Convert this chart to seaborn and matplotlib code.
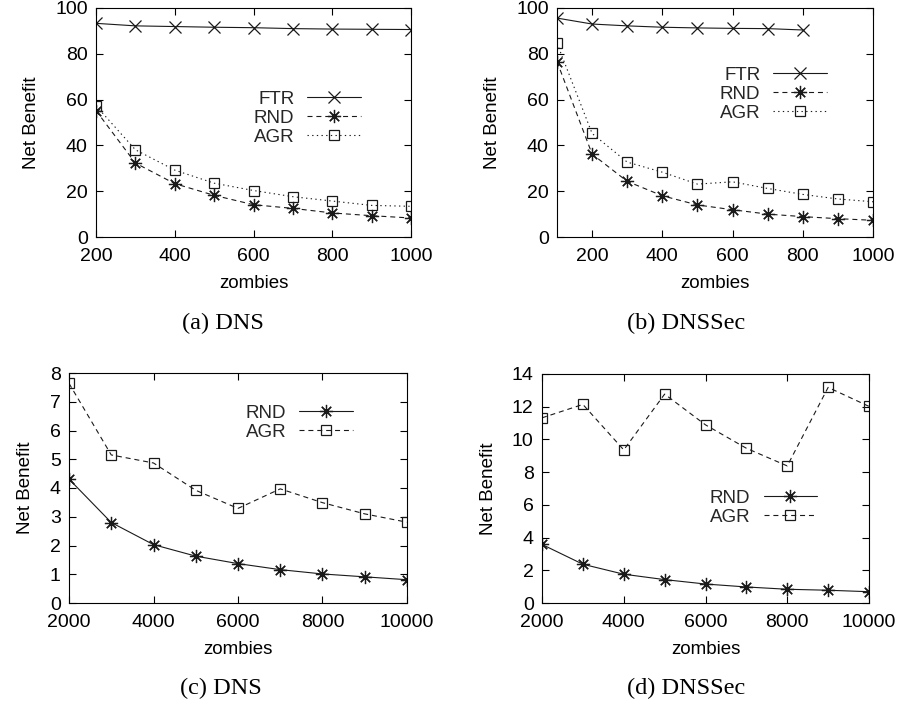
import matplotlib
matplotlib.use("Agg")
import matplotlib.pyplot as plt
import seaborn as sns
import pandas as pd

# ---------------- data ----------------
x_small = [200, 300, 400, 500, 600, 700, 800, 900, 1000]
a_ftr = [93.3, 92.2, 91.9, 91.6, 91.4, 91.0, 90.8, 90.7, 90.6]
a_rnd = [55.2, 32.3, 23.3, 18.2, 14.1, 12.5, 10.5, 9.3, 8.3]
a_agr = [57.3, 38.1, 29.2, 23.5, 20.3, 17.6, 15.7, 13.8, 13.4]

x_b = [100, 200, 300, 400, 500, 600, 700, 800, 900, 1000]
x_b_ftr = [100, 200, 300, 400, 500, 600, 700, 800]
b_ftr = [95.6, 93.0, 92.2, 91.6, 91.3, 91.1, 91.0, 90.4]
b_rnd = [76.6, 36.2, 24.3, 18.0, 14.0, 11.9, 10.0, 8.9, 8.0, 7.3]
b_agr = [84.6, 45.2, 32.7, 28.3, 23.1, 24.1, 21.2, 18.6, 16.6, 15.4]

x_large = [2000, 3000, 4000, 5000, 6000, 7000, 8000, 9000, 10000]
c_rnd = [4.31, 2.80, 2.03, 1.63, 1.37, 1.16, 1.01, 0.91, 0.81]
c_agr = [7.64, 5.15, 4.87, 3.92, 3.29, 3.97, 3.49, 3.10, 2.81]
d_rnd = [3.58, 2.37, 1.76, 1.43, 1.16, 0.98, 0.84, 0.78, 0.69]
d_agr = [11.32, 12.14, 9.36, 12.77, 10.89, 9.46, 8.38, 13.18, 12.02]

captions = ["(a) DNS", "(b) DNSSec", "(c) DNS", "(d) DNSSec"]
xlabel = "zombies"
ylabel = "Net Benefit"

# ---------------- style ----------------
sns.set_theme(style="ticks")
plt.rcParams["font.family"] = ["Liberation Sans", "DejaVu Sans"]
plt.rcParams["axes.linewidth"] = 0.8
plt.rcParams["axes.edgecolor"] = "black"

W, H = 898, 711
fig = plt.figure(figsize=(W / 100, H / 100), dpi=100)

def add_ax(left, right, top, bottom):
    return fig.add_axes([left / W, (H - bottom) / H, (right - left) / W, (bottom - top) / H])

LC = "#1a1a1a"
LW = 0.8
MS_X = 8.5
MS_AST = 9.5
MS_SQ = 7.8
ST_SOLID = "-"
ST_DASH = (0, (4.5, 3.5))
ST_DOT = (0, (1.2, 3.0))
AST = (8, 2, 0)

def series(ax, xs, ys, label, marker, ls, ms, mfc=LC):
    df = pd.DataFrame({"x": xs, "y": ys})
    sns.lineplot(data=df, x="x", y="y", ax=ax, color=LC, lw=LW, linestyle=ls,
                 marker=marker, markersize=ms, markerfacecolor=mfc,
                 markeredgecolor=LC, markeredgewidth=0.9, label=label)

def style_ax(ax, xlim, xticks, ylim, yticks):
    ax.set_xlim(*xlim)
    ax.set_ylim(*ylim)
    ax.set_xticks(xticks)
    ax.set_yticks(yticks)
    ax.tick_params(direction="in", length=5, width=0.8, top=True, right=True,
                   labelsize=14, colors="black")
    ax.tick_params(axis="x", pad=8)
    ax.tick_params(axis="y", pad=6)
    ax.set_xlabel(xlabel, fontsize=13.5, labelpad=7, color="black")
    ax.set_ylabel(ylabel, fontsize=13.5, labelpad=11, color="black")
    for s in ax.spines.values():
        s.set_visible(True)
        s.set_color("black")

def legend(ax, xfrac, yfrac):
    ax.legend(loc="upper right", bbox_to_anchor=(xfrac, yfrac), frameon=False,
              markerfirst=False, fontsize=13.5, handlelength=2.85, handletextpad=0.7,
              labelspacing=0.1, borderpad=0, borderaxespad=0, numpoints=1)

# (a)
ax = add_ax(96, 411, 8, 237)
series(ax, x_small, a_ftr, "FTR", "x", ST_SOLID, MS_X)
series(ax, x_small, a_rnd, "RND", AST, ST_DASH, MS_AST)
series(ax, x_small, a_agr, "AGR", "s", ST_DOT, MS_SQ, mfc="none")
style_ax(ax, (200, 1000), [200, 400, 600, 800, 1000], (0, 100), range(0, 101, 20))
legend(ax, 0.841, 0.64)

# (b)
ax = add_ax(557, 873, 8, 237)
series(ax, x_b_ftr, b_ftr, "FTR", "x", ST_SOLID, MS_X)
series(ax, x_b, b_rnd, "RND", AST, ST_DASH, MS_AST)
series(ax, x_b, b_agr, "AGR", "s", ST_DOT, MS_SQ, mfc="none")
style_ax(ax, (100, 1000), [200, 400, 600, 800, 1000], (0, 100), range(0, 101, 20))
legend(ax, 0.854, 0.743)

# (c)
ax = add_ax(69, 407, 373, 603)
series(ax, x_large, c_rnd, "RND", AST, ST_SOLID, MS_AST)
series(ax, x_large, c_agr, "AGR", "s", ST_DASH, MS_SQ, mfc="none")
style_ax(ax, (2000, 10000), range(2000, 10001, 2000), (0, 8), range(0, 9))
legend(ax, 0.840, 0.862)

# (d)
ax = add_ax(542, 869, 374, 603)
series(ax, x_large, d_rnd, "RND", AST, ST_SOLID, MS_AST)
series(ax, x_large, d_agr, "AGR", "s", ST_DASH, MS_SQ, mfc="none")
style_ax(ax, (2000, 10000), range(2000, 10001, 2000), (0, 14), range(0, 15, 2))
legend(ax, 0.841, 0.495)

# captions
cap_pos = [(223, 323), (686, 323), (221, 688), (686, 688)]
for txt, (cx, cy) in zip(captions, cap_pos):
    fig.text(cx / W, (H - cy) / H, txt, ha="center", va="center", fontsize=17.5,
             family=["Liberation Serif", "DejaVu Serif"], color="black")

fig.savefig("out.png", dpi=100)
